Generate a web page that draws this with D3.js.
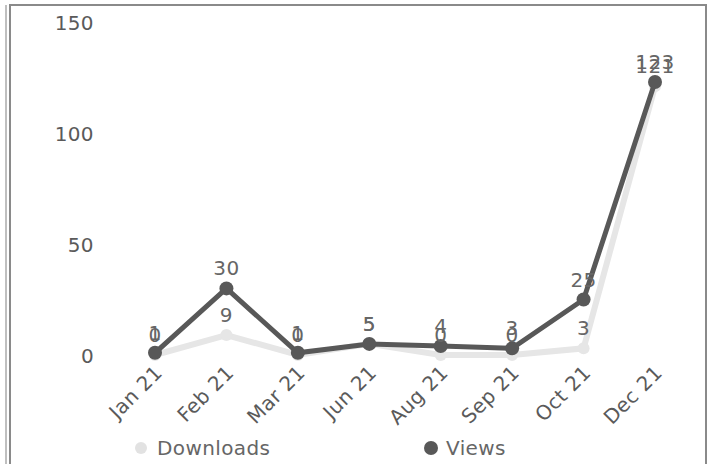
<!DOCTYPE html>
<html>
<head>
<meta charset="utf-8">
<script src="https://cdn.jsdelivr.net/npm/d3@7"></script>
<style>
  body { margin: 0; background: #fff; }
  text { font-family: "DejaVu Sans", Verdana, sans-serif; letter-spacing: 0.4px; }
</style>
</head>
<body>
<svg id="chart"></svg>
<script>
var width = 713,
    height = 464;

var months = ["Jan 21", "Feb 21", "Mar 21", "Jun 21", "Aug 21", "Sep 21", "Oct 21", "Dec 21"];
var downloads = [0, 9, 0, 5, 0, 0, 3, 121];
var views = [1, 30, 1, 5, 4, 3, 25, 123];
var yTicks = [0, 50, 100, 150];

var svg = d3.select("#chart")
    .attr("width", width)
    .attr("height", height);

// frame around the whole chart
svg.append("rect")
    .attr("x", 10).attr("y", 5)
    .attr("width", 696).attr("height", 470)
    .attr("fill", "none")
    .attr("stroke", "#8a8a8a")
    .attr("stroke-width", 2);
svg.append("line")
    .attr("x1", 6).attr("x2", 6)
    .attr("y1", 5).attr("y2", 464)
    .attr("stroke", "#aaa")
    .attr("stroke-width", 1.5);

var x = d3.scalePoint()
    .domain(months)
    .range([155, 655]);

var y = d3.scaleLinear()
    .domain([0, 150])
    .range([355, 22]);

// y axis, labels only
var yAxis = svg.append("g")
    .attr("transform", "translate(94,0)")
    .call(d3.axisLeft(y).tickValues(yTicks).tickSize(0).tickPadding(0));
yAxis.select(".domain").remove();
yAxis.selectAll("text")
    .attr("fill", "#5a5a5a")
    .style("font-size", "20px")
    .attr("dy", "0.35em");

// x axis, rotated labels
var xAxis = svg.append("g")
    .attr("transform", "translate(0,360)")
    .call(d3.axisBottom(x).tickSize(0).tickPadding(0));
xAxis.select(".domain").remove();
xAxis.selectAll("text")
    .attr("fill", "#5a5a5a")
    .style("font-size", "20px")
    .style("text-anchor", "end")
    .attr("dy", "0")
    .attr("transform", "translate(8,14) rotate(-45)");

var line = d3.line()
    .x(function(d, i) { return x(months[i]); })
    .y(function(d) { return y(d); });

// downloads series (light)
svg.append("path")
    .datum(downloads)
    .attr("d", line)
    .attr("fill", "none")
    .attr("stroke", "#e6e6e6")
    .attr("stroke-width", 6);
svg.append("g").selectAll("circle")
    .data(downloads)
    .enter().append("circle")
        .attr("cx", function(d, i) { return x(months[i]); })
        .attr("cy", function(d) { return y(d); })
        .attr("r", 6)
        .attr("fill", "#e6e6e6");

// views series (dark)
svg.append("path")
    .datum(views)
    .attr("d", line)
    .attr("fill", "none")
    .attr("stroke", "#585858")
    .attr("stroke-width", 5);
svg.append("g").selectAll("circle")
    .data(views)
    .enter().append("circle")
        .attr("cx", function(d, i) { return x(months[i]); })
        .attr("cy", function(d) { return y(d); })
        .attr("r", 7)
        .attr("fill", "#585858");

// value labels
function labels(data) {
    svg.append("g").selectAll("text")
        .data(data)
        .enter().append("text")
            .attr("x", function(d, i) { return x(months[i]); })
            .attr("y", function(d) { return y(d) - 13; })
            .attr("text-anchor", "middle")
            .attr("fill", "#666")
            .style("font-size", "20px")
            .text(function(d) { return d; });
}
labels(downloads);
labels(views);

// legend
var legend = svg.append("g");
legend.append("circle")
    .attr("cx", 141).attr("cy", 448).attr("r", 6)
    .attr("fill", "#e2e2e2");
legend.append("text")
    .attr("x", 157).attr("y", 455)
    .attr("fill", "#666")
    .style("font-size", "20px")
    .text("Downloads");
legend.append("circle")
    .attr("cx", 431).attr("cy", 448).attr("r", 7)
    .attr("fill", "#585858");
legend.append("text")
    .attr("x", 446).attr("y", 455)
    .attr("fill", "#666")
    .style("font-size", "20px")
    .text("Views");
</script>
</body>
</html>
